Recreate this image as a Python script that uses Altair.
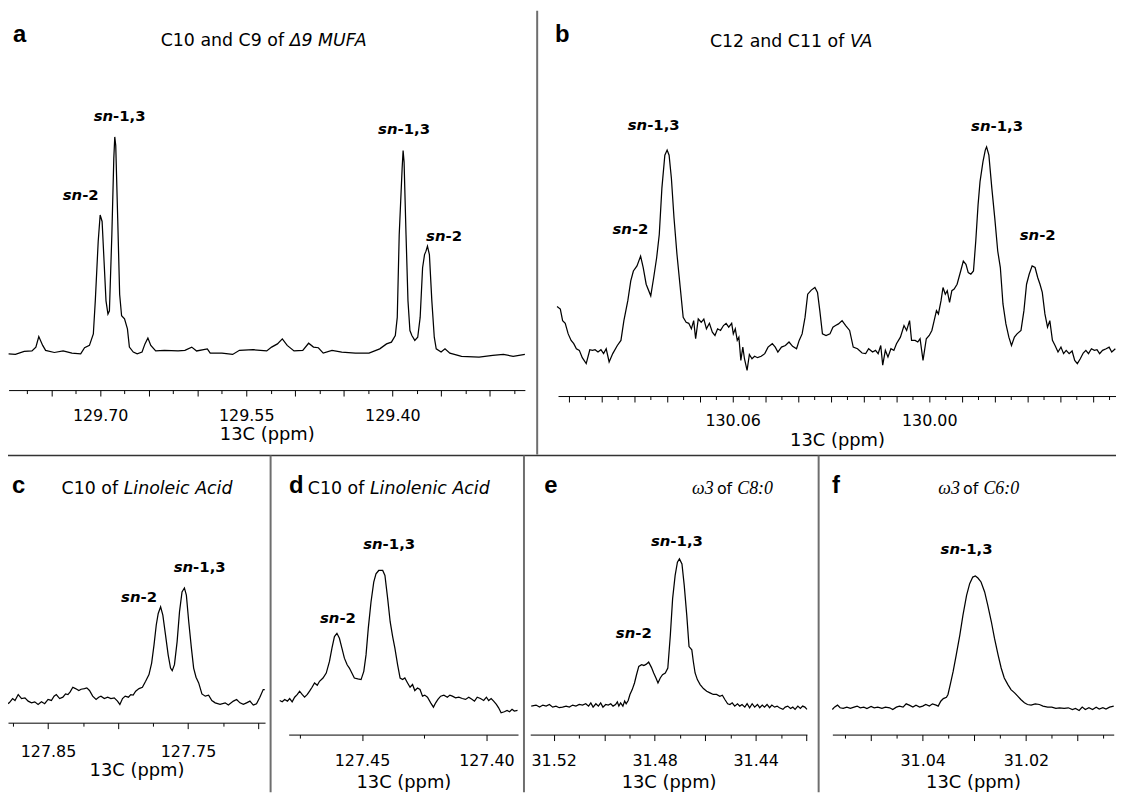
import altair as alt
import pandas as pd

W, H = 1116, 787
FONT = "DejaVu Sans"

# ---------------- panel a : C10 and C9 of delta9 MUFA ----------------
a_ppm = [129.794, 129.787, 129.778, 129.770, 129.766, 129.763, 129.759, 129.756, 129.747, 129.738,
         129.729, 129.720, 129.716, 129.711, 129.707, 129.705, 129.702, 129.700, 129.698, 129.696,
         129.694, 129.692, 129.6905, 129.688, 129.686, 129.685, 129.684, 129.682, 129.680, 129.678,
         129.675, 129.672, 129.670, 129.666, 129.662, 129.657, 129.654, 129.651, 129.648, 129.643,
         129.634, 129.620, 129.613, 129.606, 129.601, 129.590, 129.587, 129.575, 129.564, 129.557,
         129.543, 129.529, 129.524, 129.518, 129.513, 129.508, 129.501, 129.492, 129.486, 129.481,
         129.476, 129.471, 129.462, 129.452, 129.438, 129.424, 129.413, 129.406, 129.401, 129.397,
         129.395, 129.393, 129.390, 129.389, 129.388, 129.386, 129.384, 129.382, 129.380, 129.377,
         129.374, 129.3715, 129.369, 129.367, 129.3655, 129.364, 129.362, 129.3595, 129.357, 129.355,
         129.350, 129.346, 129.341, 129.329, 129.311, 129.297, 129.286, 129.276, 129.264]
a_int = [-0.8, -1.1, 0.3, 0.5, 2.3, 7.2, 3.1, 0.8, -0.2, 0.5,
         -0.5, -0.8, 2.0, 3.1, 8.4, 23.8, 51.5, 63.7, 60.7, 42.2,
         23.8, 17.7, 19.2, 54.5, 89.9, 100, 96.0, 62.2, 26.9, 16.9,
         15.4, 10.8, 2.3, 0, -0.8, 0, 3.8, 6.5, 3.1, 0.5,
         0.8, 0.5, 0.8, 2.3, 0.5, 1.5, -0.5, -0.5, -1.1, 0.8,
         1.1, 0.5, 2.3, 3.8, 6.1, 3.1, 0.5, 0.8, 4.1, 2.3,
         2.0, -0.5, 0.8, 0, -0.5, -0.5, 1.5, 3.8, 4.6, 7.7,
         16.1, 54.5, 85.3, 93.7, 88.3, 54.5, 23.8, 10.0, 7.7, 5.4,
         6.9, 16.1, 39.2, 45.3, 46.9, 49.2, 45.3, 23.8, 6.9, 1.5,
         0, 1.5, -0.5, -2.0, -2.3, -1.5, -1.1, -2.0, -1.1]
a_sn13 = ([129.680, 129.388], [109.8, 103.7])
a_sn2 = ([129.720, 129.347], [73.0, 53.8])

# ---------------- panel b : C12 and C11 of VA ----------------
b_ppm = [130.1136, 130.1126, 130.1119, 130.1111, 130.1102, 130.1093, 130.1085, 130.1077, 130.1068, 130.1059,
         130.1047, 130.1036, 130.1028, 130.1020, 130.1011, 130.1002, 130.0994, 130.0986, 130.0977, 130.0966,
         130.0952, 130.0941, 130.0932, 130.0920, 130.0911, 130.0903, 130.0892, 130.0881, 130.0873, 130.0864,
         130.0850, 130.0841, 130.0832, 130.0824, 130.0816, 130.0807, 130.0800, 130.0794, 130.0787, 130.0779,
         130.0770, 130.0760, 130.0751, 130.0742, 130.0734, 130.0726, 130.0719, 130.0713, 130.0705, 130.0696,
         130.0688, 130.0680, 130.0671, 130.0662, 130.0654, 130.0646, 130.0637, 130.0628, 130.0620, 130.0612,
         130.0603, 130.0598, 130.0592, 130.0586, 130.0581, 130.0575, 130.0569, 130.0564, 130.0556, 130.0549,
         130.0541, 130.0533, 130.0524, 130.0513, 130.0502, 130.0492, 130.0479, 130.0470, 130.0462, 130.0451,
         130.0439, 130.0428, 130.0417, 130.0405, 130.0397, 130.0388, 130.0379, 130.0371, 130.0360, 130.0349,
         130.0341, 130.0334, 130.0326, 130.0315, 130.0303, 130.0294, 130.0286, 130.0277, 130.0266, 130.0255,
         130.0243, 130.0232, 130.0219, 130.0205, 130.0194, 130.0185, 130.0173, 130.0164, 130.0156, 130.0148,
         130.0142, 130.0134, 130.0126, 130.0117, 130.0108, 130.0100, 130.0088, 130.0077, 130.0069, 130.0060,
         130.0054, 130.0043, 130.0035, 130.0028, 130.0019, 130.0009, 130.0000, 129.9992, 129.9985, 129.9978,
         129.9972, 129.9964, 129.9958, 129.9951, 129.9945, 129.9938, 129.9931, 129.9924, 129.9915, 129.9904,
         129.9896, 129.9888, 129.9881, 129.9873, 129.9865, 129.9858, 129.9851, 129.9845, 129.9836, 129.9829,
         129.9825, 129.9818, 129.9809, 129.9800, 129.9791, 129.9783, 129.9775, 129.9766, 129.9757, 129.9749,
         129.9740, 129.9732, 129.9720, 129.9711, 129.9703, 129.9695, 129.9686, 129.9677, 129.9669, 129.9662,
         129.9655, 129.9647, 129.9639, 129.9632, 129.9624, 129.9616, 129.9607, 129.9598, 129.9590, 129.9582,
         129.9573, 129.9564, 129.9556, 129.9548, 129.9539, 129.9530, 129.9522, 129.9514, 129.9505, 129.9496,
         129.9488, 129.9480, 129.9471, 129.9460, 129.9451, 129.9443, 129.9432]
b_int = [21.5, 20.3, 14.6, 13.3, 8.1, 4.9, 3.3, 0.8, 0, -3.6,
         -6.5, 0.3, 0, 0.3, -0.8, 0.3, -1.6, 0.8, -5.7, -1.6,
         2.4, 4.9, 14.6, 24.4, 34.1, 39.0, 41.5, 46.3, 40.7, 32.5,
         26.8, 35.8, 45.5, 56.9, 79.7, 95.9, 98.4, 95.9, 84.6, 65.0,
         47.2, 30.9, 16.3, 13.8, 13.3, 10.6, 14.6, 5.7, 15.4, 13.8,
         15.4, 10.6, 13.3, 8.9, 7.3, 10.6, 9.8, 12.2, 13.3, 11.4,
         13.3, 8.1, 10.6, 4.9, 6.5, -4.9, 1.6, -4.1, -9.8, -2.0,
         -4.1, -2.9, -3.6, -2.9, -1.6, 1.6, 3.3, 1.6, -0.8, 1.6,
         2.4, 4.1, 2.0, 0.8, 4.9, 8.1, 16.3, 27.6, 29.6, 30.9,
         28.5, 19.5, 8.1, 7.3, 8.1, 11.4, 12.2, 13.0, 14.6, 12.2,
         9.8, 1.6, 0.8, -1.3, -1.6, 0.8, -0.8, 0, -1.6, 2.4,
         -7.3, 0, -3.3, 0.8, 0, 3.3, 6.5, 12.2, 9.8, 14.6,
         4.9, 4.9, 4.1, 5.7, -4.9, 5.7, 7.3, 9.8, 14.6, 19.5,
         17.9, 24.4, 30.9, 27.6, 29.3, 23.6, 29.3, 30.1, 32.5, 39.0,
         43.9, 42.3, 38.2, 37.4, 39.0, 53.7, 71.5, 82.9, 92.7, 98.4,
         100, 95.9, 79.7, 65.0, 48.8, 40.7, 22.8, 13.0, 6.5, 2.4,
         6.5, 8.1, 9.8, 19.5, 32.5, 37.4, 41.5, 40.7, 35.8, 32.5,
         28.5, 17.9, 11.4, 14.6, 4.9, 2.4, -0.8, 1.6, -1.6, 0,
         -1.6, -0.3, -4.9, -6.5, -4.1, -1.3, 0, -1.6, 0.8, 0,
         0.3, -1.6, 0, 0.8, 1.6, -0.8, 0.8]
b_sn13 = ([130.0841, 129.9793], [110.6, 110.2])
b_sn2 = ([130.0912, 129.9669], [59.8, 56.9])

# ---------------- panel c : C10 of Linoleic Acid ----------------
c_ppm = [127.8796, 127.8777, 127.8753, 127.8736, 127.8713, 127.8689, 127.8665, 127.8642, 127.8618, 127.8595,
         127.8571, 127.8547, 127.8524, 127.8500, 127.8476, 127.8457, 127.8441, 127.8417, 127.8394, 127.8375,
         127.8358, 127.8342, 127.8323, 127.8304, 127.8280, 127.8264, 127.8240, 127.8223, 127.8204, 127.8181,
         127.8157, 127.8138, 127.8122, 127.8098, 127.8074, 127.8051, 127.8027, 127.8004, 127.7987, 127.7968,
         127.7949, 127.7926, 127.7909, 127.7892, 127.7874, 127.7850, 127.7826, 127.7803, 127.7779, 127.7760,
         127.7743, 127.7727, 127.7713, 127.7696, 127.7680, 127.7661, 127.7642, 127.7625, 127.7613, 127.7597,
         127.7578, 127.7561, 127.7543, 127.7526, 127.7512, 127.7495, 127.7476, 127.7460, 127.7443, 127.7424,
         127.7401, 127.7377, 127.7353, 127.7330, 127.7306, 127.7271, 127.7235, 127.7212, 127.7176, 127.7153,
         127.7129, 127.7105, 127.7082, 127.7058, 127.7034, 127.7011, 127.6987, 127.6963, 127.6952]
c_int = [-2.9, -1.5, 2.3, 0.6, 5.8, 2.3, 2.9, 0, -1.5, -0.6,
         -2.9, -0.6, -2.3, 1.5, 0.6, 4.4, 5.8, 2.3, 3.5, 6.4,
         5.8, 8.2, 12.3, 11.1, 9.4, 10.5, 11.1, 11.7, 9.4, 4.4,
         1.5, 3.5, 4.4, 2.3, 3.5, 2.3, 2.9, 0, -2.9, 2.3,
         4.4, 3.5, 5.8, 5.3, 8.8, 11.1, 12.3, 17.5, 23.4, 33.6,
         49.7, 67.3, 77.5, 83.3, 76.0, 58.5, 40.9, 29.2, 26.9, 32.2,
         52.6, 78.9, 96.5, 100, 93.6, 70.2, 46.8, 29.2, 21.1, 16.1,
         6.4, 4.4, 5.3, 0.6, -1.5, -2.9, -1.5, -3.5, 0, 1.5,
         -1.5, -2.9, -1.5, 0, -3.5, -2.3, 3.5, 10.2, 10.2]
c_sn13 = ([127.7417], [118.4])
c_sn2 = ([127.7850], [92.1])

# ---------------- panel d : C10 of Linolenic Acid ----------------
d_ppm = [127.4831, 127.4821, 127.4811, 127.4800, 127.4791, 127.4781, 127.4771, 127.4760, 127.4751, 127.4741,
         127.4731, 127.4720, 127.4711, 127.4701, 127.4691, 127.4680, 127.4671, 127.4657, 127.4644, 127.4631,
         127.4621, 127.4611, 127.4601, 127.4591, 127.4581, 127.4571, 127.4560, 127.4551, 127.4541, 127.4531,
         127.4517, 127.4504, 127.4493, 127.4484, 127.4475, 127.4464, 127.4453, 127.4444, 127.4433, 127.4417,
         127.4408, 127.4397, 127.4387, 127.4377, 127.4368, 127.4357, 127.4347, 127.4337, 127.4328, 127.4317,
         127.4307, 127.4297, 127.4288, 127.4277, 127.4267, 127.4257, 127.4248, 127.4237, 127.4224, 127.4213,
         127.4204, 127.4195, 127.4184, 127.4171, 127.4157, 127.4147, 127.4137, 127.4124, 127.4111, 127.4097,
         127.4084, 127.4071, 127.4057, 127.4048, 127.4037, 127.4024, 127.4011, 127.4000, 127.3991, 127.3981,
         127.3971, 127.3960, 127.3951, 127.3941, 127.3928, 127.3917, 127.3907, 127.3897, 127.3888, 127.3875]
d_int = [0.5, -0.5, 1.3, 0, 2.0, -0.5, 3.0, 5.1, 7.6, 5.1,
         3.0, 5.1, 7.6, 10.6, 13.9, 12.2, 15.2, 17.7, 21.5, 30.4,
         40.5, 49.4, 51.9, 48.1, 40.5, 32.9, 27.8, 25.3, 21.5, 17.7,
         17.0, 16.5, 22.8, 35.4, 55.7, 75.9, 91.1, 97.5, 100, 100,
         96.2, 78.5, 60.8, 49.4, 40.5, 27.8, 17.7, 16.5, 17.7, 13.9,
         10.6, 12.7, 8.1, 10.1, 8.9, 3.8, 4.6, 3.0, -1.3, -4.6,
         -1.3, 1.3, 3.8, 4.6, 3.0, 4.6, 3.8, 2.5, 3.0, 2.0,
         1.3, 3.0, 1.3, 0, 3.0, 2.0, 0.5, 3.0, 0.5, 2.0,
         0, -2.5, -5.1, -8.9, -8.1, -7.1, -8.1, -6.3, -7.6, -7.1]
d_sn13 = ([127.4391], [120.3])
d_sn2 = ([127.4597], [63.3])

# ---------------- panel e : omega3 of C8:0 ----------------
e_ppm = [31.5289, 31.5270, 31.5256, 31.5243, 31.5230, 31.5217, 31.5204, 31.5191, 31.5178, 31.5165,
         31.5151, 31.5138, 31.5125, 31.5112, 31.5099, 31.5086, 31.5073, 31.5062, 31.5053, 31.5044,
         31.5033, 31.5023, 31.5014, 31.5005, 31.4994, 31.4984, 31.4974, 31.4965, 31.4955, 31.4948,
         31.4942, 31.4935, 31.4926, 31.4919, 31.4913, 31.4905, 31.4898, 31.4889, 31.4880, 31.4872,
         31.4863, 31.4852, 31.4843, 31.4833, 31.4824, 31.4813, 31.4804, 31.4795, 31.4787, 31.4778,
         31.4769, 31.4758, 31.4748, 31.4738, 31.4729, 31.4719, 31.4710, 31.4702, 31.4692, 31.4683,
         31.4673, 31.4664, 31.4653, 31.4647, 31.4640, 31.4631, 31.4620, 31.4607, 31.4594, 31.4581,
         31.4568, 31.4555, 31.4542, 31.4532, 31.4522, 31.4511, 31.4502, 31.4493, 31.4483, 31.4472,
         31.4463, 31.4454, 31.4443, 31.4434, 31.4424, 31.4414, 31.4404, 31.4393, 31.4384, 31.4374,
         31.4365, 31.4355, 31.4345, 31.4336, 31.4325, 31.4315, 31.4306, 31.4292, 31.4283, 31.4273,
         31.4262, 31.4253, 31.4244, 31.4233, 31.4223, 31.4214, 31.4205, 31.4197]
e_int = [0, 0.7, -0.7, 0.7, 0, 1.1, -0.7, 0, -1.1, -0.7,
         0, -0.7, 0.7, 0, 1.1, 0.7, 1.6, 0, 2.2, -0.7,
         1.6, 0, 2.2, -0.7, 1.1, 0.7, 1.6, 0, 1.1, 2.9,
         0, 2.2, 0, 3.4, 1.6, 3.8, 7.9, 11.2, 15.7, 21.3,
         27.0, 28.1, 27.6, 28.5, 29.9, 26.3, 22.5, 19.1, 15.7, 19.1,
         21.3, 22.5, 25.8, 48.3, 73.0, 88.8, 97.8, 100, 96.6, 82.0,
         61.8, 40.4, 38.2, 30.3, 22.5, 18.0, 14.6, 11.9, 10.1, 9.0,
         7.9, 7.9, 6.7, 7.4, 4.5, 1.6, 1.1, 2.2, 0, 1.6,
         0, 1.1, -0.7, 1.6, -1.1, 1.6, -0.7, 1.1, -1.1, 0.7,
         -0.7, 1.1, -1.1, 0.7, -0.7, 0, -1.1, -2.2, -0.7, 0,
         -1.6, -0.7, -2.2, 0, -1.6, 0, -0.7, -2.2]
e_sn13 = ([31.4712], [112.4])
e_sn2 = ([31.4883], [49.4])

# ---------------- panel f : omega3 of C6:0 ----------------
f_ppm = [31.0575, 31.0571, 31.0565, 31.0560, 31.0554, 31.0547, 31.0540, 31.0533, 31.0527, 31.0521,
         31.0514, 31.0508, 31.0500, 31.0494, 31.0487, 31.0479, 31.0472, 31.0464, 31.0458, 31.0451,
         31.0445, 31.0438, 31.0432, 31.0426, 31.0419, 31.0413, 31.0406, 31.0400, 31.0394, 31.0387,
         31.0381, 31.0374, 31.0370, 31.0365, 31.0360, 31.0354, 31.0351, 31.0346, 31.0341, 31.0335,
         31.0328, 31.0322, 31.0315, 31.0309, 31.0303, 31.0298, 31.0293, 31.0287, 31.0280, 31.0274,
         31.0267, 31.0261, 31.0254, 31.0248, 31.0242, 31.0235, 31.0229, 31.0222, 31.0216, 31.0210,
         31.0203, 31.0197, 31.0190, 31.0182, 31.0174, 31.0167, 31.0158, 31.0150, 31.0142, 31.0135,
         31.0126, 31.0118, 31.0110, 31.0104, 31.0097, 31.0091, 31.0085, 31.0078, 31.0071, 31.0064,
         31.0058, 31.0051, 31.0045, 31.0038, 31.0030]
f_int = [-1.3, 0.5, 2.0, 0, -0.5, 0.5, -0.5, 0.5, 1.3, 0,
         0.5, -0.5, 1.0, 0, 0.5, -0.5, 0.5, 0, -1.3, 0.5,
         1.3, 0.5, 3.0, 2.0, 0.5, 2.0, 0.5, 1.3, 2.5, 1.3,
         3.0, 2.0, 1.3, 5.0, 7.0, 8.0, 10.1, 18.8, 27.6, 40.2,
         55.3, 70.4, 85.4, 94.2, 99.2, 100, 98.5, 95.5, 87.9, 77.9,
         65.3, 52.8, 40.2, 30.2, 22.6, 17.6, 13.8, 11.3, 8.8, 6.3,
         3.8, 2.5, 2.0, 3.0, 2.5, 1.3, 0.5, 0.5, -0.5, 0,
         -0.5, 0, -1.3, -0.5, -2.0, 0.5, -1.3, 0, -1.3, 0.5,
         -1.0, 0, -1.0, 0.5, 1.3]
f_sn13 = ([31.0315], [120.6])
f_sn2 = ([], [])

# axis tick labels per panel
a_labels = [129.70, 129.55, 129.40]
b_labels = [130.06, 130.00]
c_labels = [127.85, 127.75]
d_labels = [127.45, 127.40]
e_labels = [31.52, 31.48, 31.44]
f_labels = [31.04, 31.02]


def tick_values(start, step, n):
    return [round(start + i * step, 4) for i in range(n)]


def make_axis(ticks, long_step, labels, axis_y, lab_pad, title_pad):
    long_test = f"abs(datum.value / {long_step} - round(datum.value / {long_step})) < 0.01"
    lab_test = " || ".join(f"abs(datum.value - {v}) < 0.0001" for v in labels)
    return alt.Axis(
        values=ticks, orient="bottom", offset=axis_y - H, format=".2f",
        labelExpr=f"({lab_test}) ? datum.label : ''",
        tickSize={"condition": {"test": long_test, "value": 6}, "value": 3.5},
        tickColor="black", tickWidth=1, domainColor="black", domainWidth=1,
        grid=False, labelOverlap=False, labelFlush=False,
        labelFont=FONT, labelFontSize=16, labelColor="black", labelPadding=lab_pad,
        title="13C (ppm)", titleFont=FONT, titleFontSize=18, titleFontWeight="normal",
        titleColor="black", titlePadding=title_pad,
    )


def panel(ppm, inten, sn13, sn2, xdom, xrng, yrng, axis):
    xs = alt.Scale(domain=xdom, range=xrng, nice=False, zero=False)
    ys = alt.Scale(domain=[0, 100], range=yrng, nice=False, zero=False)
    df = pd.DataFrame({"ppm": ppm, "I": inten})
    enc = dict(x=alt.X("ppm:Q", scale=xs, axis=axis), y=alt.Y("I:Q", scale=ys, axis=None))
    layers = [alt.Chart(df).mark_line(color="black", strokeWidth=1.25).encode(**enc)]
    for (pp, ii), suffix, dx in [(sn13, "-1,3", -6.6), (sn2, "-2", 1.5)]:
        if not pp:
            continue
        ldf = pd.DataFrame({"ppm": pp, "I": ii})
        layers.append(alt.Chart(ldf).mark_text(
            text="sn", font=FONT, fontSize=15, fontWeight="bold", fontStyle="italic",
            align="right", baseline="middle", dx=dx, color="black").encode(**enc))
        layers.append(alt.Chart(ldf).mark_text(
            text=suffix, font=FONT, fontSize=15, fontWeight="bold",
            align="left", baseline="middle", dx=dx, color="black").encode(**enc))
    return alt.layer(*layers)


ONE = alt.Data(values=[{"k": 1}])


def vrule(x, y0, y1, color="#6e6e6e", w=2):
    return alt.Chart(ONE).mark_rule(color=color, strokeWidth=w).encode(
        x=alt.value(x), y=alt.value(y0), y2=alt.value(y1))


def hrule(y, x0, x1, color="#333333", w=1.5):
    return alt.Chart(ONE).mark_rule(color=color, strokeWidth=w).encode(
        y=alt.value(y), x=alt.value(x0), x2=alt.value(x1))


def label(text, x, y, font=FONT, size=17.5, weight="normal", style="normal"):
    return alt.Chart(ONE).mark_text(
        text=text, font=font, fontSize=size, fontWeight=weight, fontStyle=style,
        align="left", baseline="alphabetic", color="black").encode(x=alt.value(x), y=alt.value(y))


pa = panel(a_ppm, a_int, a_sn13, a_sn2, [129.264, 129.794], [520.6, 0.6], [343.7, 127],
           make_axis(tick_values(129.275, 0.025, 21), 0.05, a_labels, 382, 12, 2))
pb = panel(b_ppm, b_int, b_sn13, b_sn2, [129.943, 130.1133], [1116, 554], [342, 137],
           make_axis(tick_values(129.945, 0.005, 34), 0.01, b_labels, 388, 11, 3))
pc = panel(c_ppm, c_int, c_sn13, c_sn2, [127.695, 127.8786], [258.9, 0], [695.3, 581.3],
           make_axis(tick_values(127.70, 0.025, 8), 0.05, c_labels, 717, 15, 2))
pd_ = panel(d_ppm, d_int, d_sn13, d_sn2, [127.3873, 127.4795], [513.7, 282.7], [695.3, 563.7],
            make_axis(tick_values(127.40, 0.025, 4), 0.05, d_labels, 729, 12, 5))
pe = panel(e_ppm, e_int, e_sn13, e_sn2, [31.4197, 31.5293], [804.7, 526], [700.3, 552],
           make_axis(tick_values(31.42, 0.01, 11), 0.02, e_labels, 729, 12, 5))
pf = panel(f_ppm, f_int, f_sn13, f_sn2, [31.003, 31.0575], [1113.7, 830.3], [702, 569.3],
           make_axis(tick_values(31.005, 0.005, 11), 0.01, f_labels, 729, 12, 5))

deco = [
    vrule(533, 0, 447), hrule(448, 0, W),
    vrule(264.5, 448, H), vrule(519.7, 448, H), vrule(816.5, 448, H),
    label("a", 5, 31.5, "Liberation Sans", 24, "bold"),
    label("b", 551, 31.5, "Liberation Sans", 24, "bold"),
    label("c", 4, 485.5, "Liberation Sans", 24, "bold"),
    label("d", 283, 485.5, "Liberation Sans", 24, "bold"),
    label("e", 540, 485.5, "Liberation Sans", 24, "bold"),
    label("f", 830, 485.5, "Liberation Sans", 24, "bold"),
    label("C10 and C9 of ", 153.8, 35.5), label("\u03949 MUFA", 283.7, 35.5, style="italic"),
    label("C12 and C11 of ", 707, 36.5), label("VA", 848, 36.5, style="italic"),
    label("C10 of ", 54, 487), label("Linoleic Acid", 116.5, 487, style="italic"),
    label("C10 of ", 302, 487), label("Linolenic Acid", 364.5, 487, style="italic"),
    label("\u03c93", 689, 487, "Liberation Serif", 18, style="italic"),
    label("of", 714, 487, FONT, 16),
    label("C8:0", 734.5, 487, "Liberation Serif", 18, style="italic"),
    label("\u03c93", 937, 487, "Liberation Serif", 18, style="italic"),
    label("of", 962, 487, FONT, 16),
    label("C6:0", 982.5, 487, "Liberation Serif", 18, style="italic"),
]

chart = alt.layer(pa, pb, pc, pd_, pe, pf, *deco).resolve_scale(
    x="independent", y="independent"
).resolve_axis(
    x="independent", y="independent"
).properties(
    width=W, height=H, padding=0, background="white",
    autosize=alt.AutoSizeParams(type="none"),
).configure_view(stroke=None)

chart.save("out.html", embed_options={"renderer": "svg", "actions": False})
